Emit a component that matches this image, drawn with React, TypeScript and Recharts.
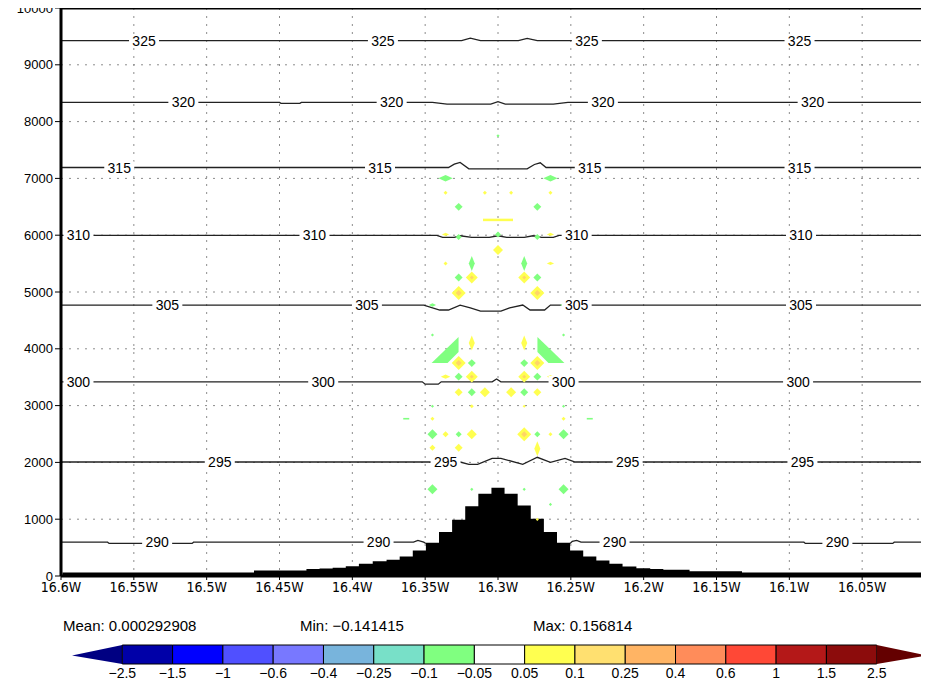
import React from "react"
import {
  ComposedChart,
  Line,
  Area,
  Scatter,
  XAxis,
  YAxis,
  CartesianGrid,
  ReferenceLine,
  BarChart,
  Bar,
} from "recharts"

const FONT = "'Liberation Sans', Arial, Helvetica, sans-serif"
const NARROW = "'Liberation Sans Narrow', 'DejaVu Sans Condensed', 'Liberation Sans', sans-serif"

// axis ticks (longitude as negative degrees east, height in m)
const xTicks = [-16.6, -16.55, -16.5, -16.45, -16.4, -16.35, -16.3, -16.25, -16.2, -16.15, -16.1, -16.05]
const yTicks = [0, 1000, 2000, 3000, 4000, 5000, 6000, 7000, 8000, 9000, 10000]

// terrain cross-section, one value per grid column
const terrainLon = [
  -16.599, -16.59, -16.581, -16.572, -16.562, -16.553, -16.544, -16.535, -16.526, -16.517, -16.508,
  -16.499, -16.49, -16.481, -16.472, -16.463, -16.454, -16.445, -16.436, -16.427, -16.418, -16.409,
  -16.4, -16.391, -16.381, -16.372, -16.363, -16.354, -16.345, -16.336, -16.327, -16.318, -16.309,
  -16.3,
  -16.291, -16.282, -16.273, -16.264, -16.255, -16.246, -16.237, -16.228, -16.219, -16.21, -16.2,
  -16.191, -16.182, -16.173, -16.164, -16.155, -16.146, -16.137, -16.128, -16.119, -16.11, -16.101,
  -16.092, -16.083, -16.074, -16.065, -16.056, -16.047, -16.038, -16.028, -16.019, -16.01, -16.001,
]
const terrainHgt = [
  60, 60, 60, 60, 60, 60, 60, 60, 60, 60, 60, 60, 60, 60, 60,
  97, 97, 97, 97,
  125, 130, 145, 173, 215, 261, 286, 344, 450, 585, 773, 991, 1226, 1450,
  1555,
  1450, 1243, 1009, 773, 585, 450, 344, 273, 215, 168, 138, 125, 109, 109,
  85, 85, 85, 85,
  60, 60, 60, 60, 60, 60, 60, 60, 60, 60, 60, 60, 60, 60, 60,
]

// potential temperature contours [lon, height]
const th325 = [[-16.6, 9427], [-16.325, 9427], [-16.319, 9470], [-16.312, 9427], [-16.286, 9427], [-16.28, 9465], [-16.273, 9427], [-16.0, 9427]]
const th320 = [[-16.6, 8339], [-16.45, 8339], [-16.449, 8322], [-16.436, 8322], [-16.435, 8339], [-16.345, 8339], [-16.335, 8307], [-16.305, 8307], [-16.3, 8350], [-16.295, 8307], [-16.262, 8307], [-16.252, 8339], [-16.0, 8339]]
const th315 = [[-16.6, 7192], [-16.334, 7192], [-16.33, 7250], [-16.326, 7282], [-16.32, 7169], [-16.28, 7169], [-16.275, 7245], [-16.271, 7275], [-16.267, 7192], [-16.0, 7192]]
const th310 = [[-16.6, 5996], [-16.342, 5996], [-16.338, 5962], [-16.33, 5962], [-16.326, 5990], [-16.318, 5962], [-16.306, 5962], [-16.3, 5990], [-16.294, 5962], [-16.282, 5962], [-16.276, 5990], [-16.27, 5962], [-16.262, 5962], [-16.258, 5996], [-16.0, 5996]]
const th305 = [[-16.6, 4770], [-16.351, 4770], [-16.34, 4683], [-16.334, 4683], [-16.326, 4770], [-16.319, 4720], [-16.312, 4665], [-16.298, 4665], [-16.292, 4720], [-16.283, 4770], [-16.278, 4683], [-16.268, 4683], [-16.264, 4770], [-16.0, 4770]]
const th300 = [[-16.6, 3418], [-16.352, 3418], [-16.35, 3377], [-16.341, 3377], [-16.339, 3418], [-16.304, 3418], [-16.301, 3468], [-16.298, 3418], [-16.0, 3418]]
const th295 = [[-16.6, 2007], [-16.326, 2007], [-16.32, 1966], [-16.314, 1966], [-16.304, 2072], [-16.298, 2072], [-16.283, 1966], [-16.273, 2090], [-16.264, 2002], [-16.254, 2072], [-16.247, 2007], [-16.0, 2007]]
const th290 = [[-16.6, 596], [-16.568, 596], [-16.567, 573], [-16.51, 573], [-16.509, 596], [-16.358, 596], [-16.355, 626], [-16.351, 596], [-16.3495, 572], [-16.3, null], [-16.2505, 572], [-16.249, 610], [-16.246, 626], [-16.243, 596], [-16.09, 596], [-16.089, 573], [-16.029, 573], [-16.028, 596], [-16.0, 596]]

const contourLabels = [
  [-16.543, 9427, "325"], [-16.379, 9427, "325"], [-16.239, 9427, "325"], [-16.093, 9427, "325"],
  [-16.516, 8339, "320"], [-16.373, 8339, "320"], [-16.228, 8339, "320"], [-16.084, 8339, "320"],
  [-16.56, 7192, "315"], [-16.381, 7192, "315"], [-16.237, 7192, "315"], [-16.093, 7192, "315"],
  [-16.588, 5996, "310"], [-16.426, 5996, "310"], [-16.246, 5996, "310"], [-16.092, 5996, "310"],
  [-16.527, 4770, "305"], [-16.39, 4770, "305"], [-16.246, 4770, "305"], [-16.092, 4770, "305"],
  [-16.588, 3418, "300"], [-16.42, 3418, "300"], [-16.255, 3418, "300"], [-16.094, 3418, "300"],
  [-16.491, 2007, "295"], [-16.336, 2007, "295"], [-16.211, 2007, "295"], [-16.091, 2007, "295"],
  [-16.534, 596, "290"], [-16.382, 596, "290"], [-16.22, 596, "290"], [-16.067, 596, "290"],
]

// shaded field patches [lon, height, value, patch form]
const patches = [
  [-16.3, 7751, -0.051], [-16.336, 7002, -0.115, "wide"], [-16.264, 7002, -0.115, "wide"],
  [-16.336, 6746, 0.057], [-16.309, 6746, 0.057], [-16.291, 6746, 0.057], [-16.264, 6746, 0.057],
  [-16.327, 6499, -0.086], [-16.273, 6499, -0.086], [-16.3, 6270, 0.06, "bar"],
  [-16.336, 6014, 0.072, "wide"], [-16.327, 5970, -0.072], [-16.3, 6014, -0.072], [-16.273, 5970, -0.072], [-16.264, 6014, 0.072, "wide"],
  [-16.3, 5741, 0.101],
  [-16.336, 5503, 0.057], [-16.318, 5503, -0.101, "tall"], [-16.282, 5503, -0.101, "tall"], [-16.264, 5503, 0.072, "wide"],
  [-16.327, 5256, -0.086], [-16.318, 5256, 0.115], [-16.282, 5256, 0.115], [-16.273, 5256, -0.086],
  [-16.327, 4982, 0.13], [-16.273, 4982, 0.13],
  [-16.345, 4771, -0.072, "wide"], [-16.255, 4771, -0.072, "wide"],
  [-16.345, 4242, -0.051], [-16.255, 4242, -0.051],
  [-16.318, 4101, 0.101, "tall"], [-16.282, 4101, 0.101, "tall"],
  [-16.336, 3977, -0.101, "wedgeL"], [-16.264, 3977, -0.101, "wedgeR"],
  [-16.327, 3748, 0.13], [-16.318, 3748, -0.086], [-16.282, 3748, -0.086], [-16.273, 3748, 0.13],
  [-16.336, 3510, 0.086, "wide"], [-16.327, 3510, -0.086], [-16.318, 3510, 0.115], [-16.282, 3510, 0.115], [-16.273, 3510, -0.086], [-16.264, 3510, 0.072, "wide"],
  [-16.327, 3236, 0.086], [-16.318, 3236, -0.086], [-16.309, 3236, 0.101], [-16.291, 3236, 0.101], [-16.282, 3236, -0.086], [-16.273, 3236, 0.086],
  [-16.318, 2989, 0.057], [-16.282, 2989, 0.051], [-16.345, 2989, -0.051], [-16.255, 2989, -0.051],
  [-16.363, 2769, -0.057, "dash"], [-16.237, 2769, -0.057, "dash"], [-16.345, 2769, 0.057], [-16.255, 2769, 0.057],
  [-16.345, 2496, -0.101], [-16.336, 2496, 0.072], [-16.327, 2496, -0.072], [-16.318, 2496, 0.101],
  [-16.282, 2496, 0.13], [-16.273, 2496, -0.072], [-16.264, 2496, 0.057], [-16.255, 2496, -0.101],
  [-16.345, 2257, 0.072], [-16.327, 2257, 0.086], [-16.273, 2240, 0.101, "tall"],
  [-16.345, 1526, -0.101], [-16.318, 1526, -0.051], [-16.282, 1526, -0.051], [-16.255, 1526, -0.101],
  [-16.264, 1261, -0.051], [-16.273, 996, 0.051],
]

// colour bar
const cbLabels = ["−2.5", "−1.5", "−1", "−0.6", "−0.4", "−0.25", "−0.1", "−0.05", "0.05", "0.1", "0.25", "0.4", "0.6", "1", "1.5", "2.5"]
const cbColors = [
  "#000082", "#0000a8", "#0000ff", "#5050ff", "#7878ff", "#78b4dc", "#78e0c8", "#80ff80", "#ffffff",
  "#ffff50", "#ffe070", "#ffb464", "#ff8c5a", "#ff4836", "#b41818", "#8c0c0c", "#640000",
]
const stats = ["Mean: 0.000292908", "Min: −0.141415", "Max: 0.156814"]

const contours = [th325, th320, th315, th310, th305, th300, th295, th290]

const GREEN = "#80ff80"
const YELLOW = "#ffff50"

function PatchShape(props: any) {
  const { cx, cy, payload } = props
  const v = payload.v
  const fill = v > 0 ? YELLOW : GREEN
  const s = 3 + (Math.abs(v) - 0.05) * 137.5
  const k = payload.k
  if (k === "wedgeL" || k === "wedgeR") {
    const m = k === "wedgeL" ? 1 : -1
    const pts = [[13, -13], [13, 2], [2, 13], [-14, 13]]
      .map(([dx, dy]) => `${cx + m * dx},${cy + dy}`)
      .join(" ")
    return <polygon points={pts} fill={GREEN} />
  }
  if (k === "bar") return <rect x={cx - 15} y={cy - 1.2} width={30} height={2.5} fill={fill} />
  if (k === "dash") return <rect x={cx - 3} y={cy - 0.8} width={6} height={1.6} fill={fill} />
  let w = s
  let h = s
  if (k === "wide") { w = s * 1.2; h = s * 0.55 }
  if (k === "tall") { w = s * 0.6; h = s * 1.5 }
  const d = (ww: number, hh: number) =>
    `M${cx},${cy - hh / 2}L${cx + ww / 2},${cy}L${cx},${cy + hh / 2}L${cx - ww / 2},${cy}Z`
  return (
    <g>
      <path d={d(w, h)} fill={fill} />
      {v > 0.105 && <path d={d(w - 8, h - 8)} fill="#ffd468" />}
    </g>
  )
}

function LabelShape(props: any) {
  const { cx, cy, payload } = props
  return (
    <g>
      <rect x={cx - 15} y={cy - 6} width={30} height={12} fill="#fff" />
      <text x={cx} y={cy} dy="0.36em" textAnchor="middle" fontSize={14} fontFamily={FONT} fill="#000">
        {payload.t}
      </text>
    </g>
  )
}

function TriLeft(props: any) {
  const { x, y, width, height, fill } = props
  return <polygon points={`${x},${y + height / 2 + 1} ${x + width},${y} ${x + width},${y + height}`} fill={fill} />
}

function TriRight(props: any) {
  const { x, y, width, height, fill } = props
  return <polygon points={`${x},${y} ${x + width},${y + height / 2 + 1} ${x},${y + height}`} fill={fill} />
}

export default function App() {
  const terrain = terrainLon.map((x, i) => ({ x, y: terrainHgt[i] }))
  const patchData = patches.map(([x, y, v, k]) => ({ x, y, v, k }))
  const labelData = contourLabels.map(([x, y, t]) => ({ x, y, t }))
  const cbRow: any = { name: "cb" }
  cbColors.forEach((_, i) => { cbRow[`s${i}`] = 1 })

  return (
    <div style={{ margin: "-8px 0 0 -8px", width: 929, height: 683, overflow: "hidden", position: "relative", background: "#fff" }}>
      <div style={{ position: "absolute", left: 0, top: 0 }}>
        <ComposedChart width={935} height={606} margin={{ top: 8, right: 0, bottom: 0, left: 0 }}>
          <CartesianGrid stroke="#8c8c8c" strokeDasharray="2 6" />
          <XAxis
            dataKey="x"
            type="number"
            domain={[-16.6, -16.0]}
            ticks={xTicks}
            interval={0}
            allowDataOverflow
            height={30}
            tickSize={4}
            tickMargin={2}
            tickFormatter={(v: number) => `${Math.abs(v)}W`}
            tick={{ fontSize: 14, fill: "#000", fontFamily: NARROW }}
            axisLine={{ stroke: "#000", strokeWidth: 3 }}
            tickLine={{ stroke: "#000" }}
          />
          <YAxis
            dataKey="y"
            type="number"
            domain={[0, 10000]}
            ticks={yTicks}
            interval={0}
            allowDataOverflow
            width={61}
            tickSize={6}
            tickMargin={2}
            tick={{ fontSize: 13, fill: "#000", fontFamily: FONT }}
            axisLine={{ stroke: "#000", strokeWidth: 3 }}
            tickLine={{ stroke: "#000" }}
          />
          {contours.map((pts, i) => (
            <Line
              key={i}
              data={pts.map(([x, y]) => ({ x, y }))}
              dataKey="y"
              type="linear"
              stroke="#222"
              strokeWidth={1.3}
              dot={false}
              activeDot={false}
              isAnimationActive={false}
              zIndex={400}
            />
          ))}
          <Area
            data={terrain}
            dataKey="y"
            type="step"
            fill="#000"
            fillOpacity={1}
            stroke="none"
            isAnimationActive={false}
            zIndex={500}
          />
          <Scatter data={patchData} dataKey="y" shape={PatchShape} isAnimationActive={false} zIndex={600} />
          <Scatter data={labelData} dataKey="y" shape={LabelShape} isAnimationActive={false} zIndex={700} />
          <ReferenceLine y={10000} stroke="#000" strokeWidth={3} zIndex={800} />
        </ComposedChart>
      </div>
      <svg width={929} height={40} style={{ position: "absolute", left: 0, top: 600 }}>
        <text x={63} y={31} fontSize={15} fontFamily={FONT} fill="#000">{stats[0]}</text>
        <text x={300} y={31} fontSize={15} fontFamily={FONT} fill="#000">{stats[1]}</text>
        <text x={533} y={31} fontSize={15} fontFamily={FONT} fill="#000">{stats[2]}</text>
      </svg>
      <div style={{ position: "absolute", left: 0, top: 640 }}>
        <BarChart
          width={929}
          height={43}
          data={[cbRow]}
          layout="vertical"
          barCategoryGap={0}
          margin={{ top: 5, right: 2, bottom: 0, left: 72 }}
        >
          <XAxis
            type="number"
            domain={[0, cbColors.length]}
            ticks={cbLabels.map((_, i) => i + 1)}
            interval={0}
            height={19}
            axisLine={false}
            tickLine={false}
            tickSize={0}
            tickMargin={4}
            tickFormatter={(v: number) => cbLabels[v - 1]}
            tick={{ fontSize: 14, fill: "#000", fontFamily: FONT }}
          />
          <YAxis type="category" dataKey="name" hide />
          {cbColors.map((c, i) => (
            <Bar
              key={i}
              dataKey={`s${i}`}
              stackId="cb"
              fill={c}
              stroke={i === 0 || i === cbColors.length - 1 ? "none" : "#000"}
              strokeWidth={1}
              isAnimationActive={false}
              shape={i === 0 ? TriLeft : i === cbColors.length - 1 ? TriRight : undefined}
            />
          ))}
        </BarChart>
      </div>
    </div>
  )
}
